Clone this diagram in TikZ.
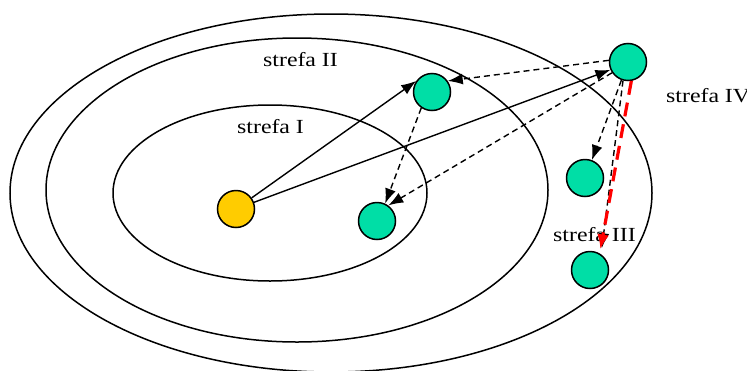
\documentclass[tikz,border=0pt]{standalone}
\usepackage{fontspec}
\setmainfont{Liberation Serif}
\newfontfamily\strefafont[FakeStretch=1.19]{Liberation Serif}
\usetikzlibrary{arrows.meta}

\definecolor{wezel}{RGB}{0,222,166}
\definecolor{zrodlo}{RGB}{255,204,0}

\begin{document}
\begin{tikzpicture}[x=1pt,y=-1pt,
                    strefa/.style={
                        draw,
                        line width=1.5pt
                    },
                    opis/.style={
                        anchor=base west,
                        inner sep=0pt,
                        font=\strefafont\fontsize{20}{24}\selectfont
                    },
                    kolko/.style={
                        circle,
                        draw,
                        line width=1.5pt,
                        minimum size=37pt,
                        inner sep=0pt,
                        fill=wezel
                    },
                    arrow/.style={
                        -{Latex[length=15pt,width=11pt]},
                        line width=1.4pt
                    },
                    darrow/.style={
                        arrow,
                        dash pattern=on 6pt off 4pt
                    },
                    rarrow/.style={
                        -{Latex[length=15pt,width=12pt]},
                        red,
                        line width=3.2pt,
                        dash pattern=on 14pt off 8pt
                    }
                ]

                \useasboundingbox (0,0) rectangle (747,370);

                % Strefy
                \draw[strefa] (331,193) ellipse [x radius=321pt, y radius=179pt];
                \draw[strefa] (297,190) ellipse [x radius=251pt, y radius=152pt];
                \draw[strefa] (270,193) ellipse [x radius=157pt, y radius=88pt];

                \node[opis] (s1) at (237,133) {strefa I};
                \node[opis] (s2) at (263,66) {strefa II};
                \node[opis] (s3) at (553,241) {strefa III};
                \node[opis] (s4) at (666,102) {strefa IV};

                % Wezly
                \node[kolko, fill=zrodlo] (src) at (236,209) {};
                \node[kolko] (g1) at (432,92) {};
                \node[kolko] (g2) at (377,221) {};
                \node[kolko] (g3) at (628,62) {};
                \node[kolko] (g4) at (585,178) {};
                \node[kolko] (g5) at (590,270) {};

                % Strzalki
                \draw[arrow] (src) -- (g1.145);
                \draw[arrow] (src) -- (g3.204);
                \draw[darrow] (g1.236) -- (g2.65);
                \draw[darrow] (g3.175) -- (g1.35);
                \draw[darrow] (g3.214) -- (g2.54);
                \draw[darrow] (g3.250) -- (g4.69);
                \draw[darrow, shorten >=6pt] (g3.255) -- (g5.55);
                \draw[rarrow, shorten >=4pt] (g3.280) -- (g5.60);

            \end{tikzpicture}
\end{document}
